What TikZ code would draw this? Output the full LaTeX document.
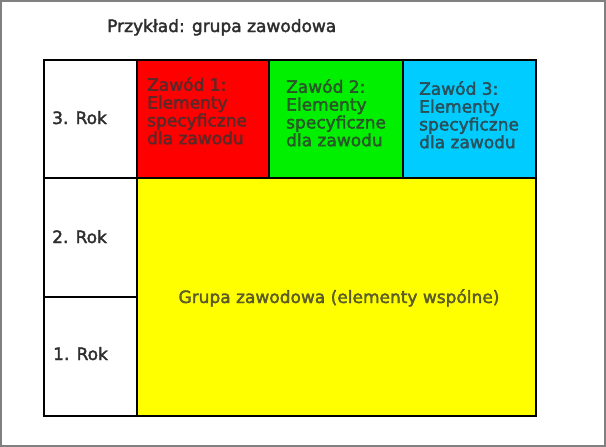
\documentclass[tikz,border=0pt]{standalone}
\usepackage{fontspec}
\setmainfont{DejaVu Sans}[FakeBold=2.2]
\definecolor{zred}{RGB}{255,0,0}
\definecolor{zgreen}{RGB}{0,240,0}
\definecolor{zblue}{RGB}{0,204,255}
\definecolor{zyellow}{RGB}{255,255,0}
\definecolor{zframe}{RGB}{128,128,128}
\begin{document}
\begin{tikzpicture}[x=1pt,y=-1pt,
	cell/.style={draw, line width=1.8pt, rectangle, inner sep=0pt, anchor=north west},
	txt/.style={inner sep=0pt, anchor=north west, align=left, text=black!82,
		font=\fontsize{17}{17.8}\selectfont},
	ctxt/.style={txt, text=black!80, text opacity=0.75}]
			%%%	Cornice
			\draw[zframe, line width=2pt] (1,1) rectangle (605,446);
			\useasboundingbox (0,0) rectangle (606,447);
			%%%	Titolo
			\node[txt, anchor=base west] (titolo) at (107,32) {Przykład: grupa zawodowa};
			%%%	Celle
			\node[cell, minimum width=93pt, minimum height=118pt] (r3) at (43,59) {};
			\node[cell, minimum width=93pt, minimum height=119pt] (r2) at (43,177) {};
			\node[cell, minimum width=93pt, minimum height=119pt] (r1) at (43,296) {};
			\node[cell, fill=zred, minimum width=132pt, minimum height=118pt] (z1) at (136,59) {};
			\node[cell, fill=zgreen, minimum width=134pt, minimum height=118pt] (z2) at (268,59) {};
			\node[cell, fill=zblue, minimum width=133pt, minimum height=118pt] (z3) at (402,59) {};
			\node[cell, fill=zyellow, minimum width=399pt, minimum height=238pt] (gr) at (136,177) {};
			%%%	Testi
			\node[txt, anchor=base west] (t3) at (52,124) {3. Rok};
			\node[txt, anchor=base west] (t2) at (52,243) {2. Rok};
			\node[txt, anchor=base west] (t1) at (53,360) {1. Rok};
			\node[ctxt] (tz1) at (147,77) {Zawód 1:\\Elementy\\specyficzne\\dla zawodu};
			\node[ctxt] (tz2) at (286,79) {Zawód 2:\\Elementy\\specyficzne\\dla zawodu};
			\node[ctxt] (tz3) at (419,81) {Zawód 3:\\Elementy\\specyficzne\\dla zawodu};
			\node[ctxt, anchor=base] (tgr) at (339,303) {Grupa zawodowa (elementy wspólne)};
		\end{tikzpicture}
\end{document}
